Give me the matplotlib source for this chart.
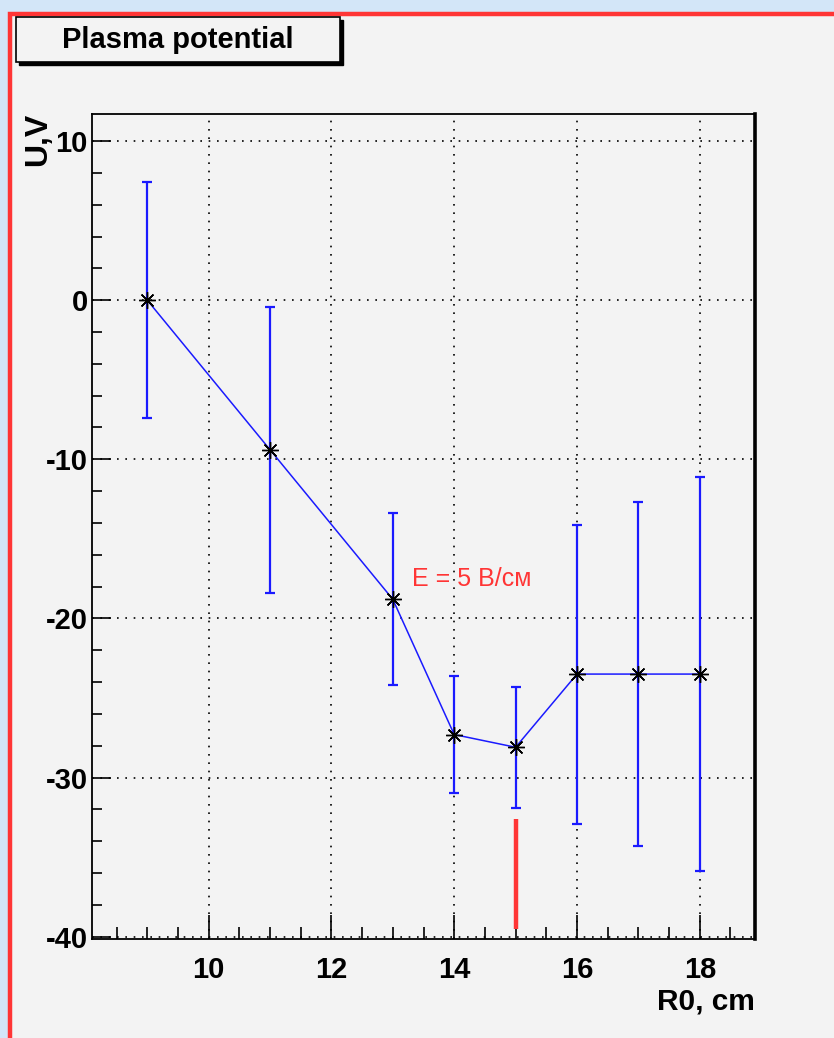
import matplotlib.pyplot as plt
from matplotlib.patches import Rectangle
from matplotlib.ticker import MultipleLocator

# data
r0 = [9, 11, 13, 14, 15, 16, 17, 18]
u = [0.0, -9.4, -18.8, -27.3, -28.1, -23.5, -23.5, -23.5]
u_err = [7.4, 9.0, 5.4, 3.7, 3.8, 9.4, 10.8, 12.4]

marker_x = 15
marker_y = [-32.6, -39.5]

W, H = 834, 1038
plt.rcParams['font.family'] = ['Liberation Sans', 'DejaVu Sans']
plt.rcParams['axes.unicode_minus'] = False

fig = plt.figure(figsize=(W / 100, H / 100), dpi=100)
fig.patch.set_facecolor('#d3e6f8')

# canvas panel with red frame
fig.patches.append(Rectangle((9.5 / W, -0.01), 1.0, 1 - 13.5 / H + 0.01, transform=fig.transFigure,
                             facecolor='#f3f3f3', edgecolor='#ff3535', lw=3.2, zorder=-2))

# title box with shadow
fig.patches.append(Rectangle((19 / W, 1 - 65 / H), 324 / W, 45 / H, transform=fig.transFigure,
                             facecolor='black', edgecolor='black', lw=1, zorder=1))
fig.patches.append(Rectangle((16 / W, 1 - 62 / H), 324 / W, 45 / H, transform=fig.transFigure,
                             facecolor='#f3f3f3', edgecolor='black', lw=1.2, zorder=2))
fig.text(178 / W, 1 - 40 / H, 'Plasma potential', ha='center', va='center',
         fontsize=21, fontweight='bold', zorder=3)

ax = fig.add_axes([92 / W, 1 - 939 / H, 663 / W, 825 / H])
ax.set_zorder(5)
ax.set_facecolor('#f3f3f3')
ax.set_xlim(8.1, 18.9)
ax.set_ylim(-40.15, 11.7)

ax.grid(True, which='major', color='black', linestyle=(0, (1, 4)), lw=1.2)
ax.set_axisbelow(True)

ax.xaxis.set_major_locator(MultipleLocator(2))
ax.xaxis.set_minor_locator(MultipleLocator(0.5))
ax.yaxis.set_major_locator(MultipleLocator(10))
ax.yaxis.set_minor_locator(MultipleLocator(2))

ax.tick_params(axis='x', which='major', direction='in', length=17, width=1.2, pad=12,
               labelsize=21, top=False)
ax.tick_params(axis='x', which='minor', direction='in', length=8.5, width=1.2, top=False)
ax.tick_params(axis='y', which='major', direction='in', length=14, width=1.2, pad=3,
               labelsize=21, right=False)
ax.tick_params(axis='y', which='minor', direction='in', length=7, width=1.2, right=False)
for lab in ax.get_xticklabels() + ax.get_yticklabels():
    lab.set_fontweight('bold')

for side in ['left', 'bottom', 'top']:
    ax.spines[side].set_linewidth(1.3)
ax.spines['right'].set_linewidth(2.6)

ax.errorbar(r0, u, yerr=u_err, fmt='none', ecolor='#1a1aff', elinewidth=1.6,
            capsize=3.6, capthick=1.6, zorder=3)
ax.plot(r0, u, color='#1a1aff', lw=1.1, zorder=4)
ax.plot(r0, u, linestyle='none', marker=(8, 2, 0), markersize=12, mew=1.0,
        color='black', zorder=5)

ax.plot([marker_x, marker_x], marker_y, color='#ff3535', lw=3.2, solid_capstyle='butt', zorder=4)
ax.text(13.31, -17.5, 'E = 5 В/см', color='#ff3535', fontsize=18, ha='left', va='center')

fig.text(755 / W, 1 - 1002 / H, 'R0, cm', ha='right', va='center', fontsize=21.5, fontweight='bold')
fig.text(38 / W, 1 - 113 / H, 'U,V', ha='center', va='top', rotation=90,
         fontsize=23, fontweight='bold')

fig.savefig('out.png', dpi=100, facecolor=fig.get_facecolor())
